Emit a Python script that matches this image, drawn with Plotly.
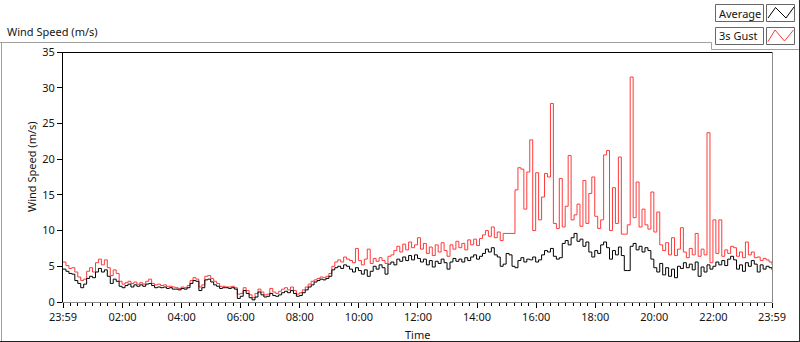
import plotly.graph_objects as go

# ---------------- data ----------------
# minutes elapsed since 23:59 of the previous day, 6-minute log interval
minutes = list(range(0, 1441, 6))

avg = [
    4.6, 4.3, 4.0, 3.9, 3.0, 2.6, 2.0, 2.5, 3.3, 3.6, 3.4, 4.2, 4.7, 4.2, 4.5, 3.6, 2.6, 3.2, 2.9, 2.2, 2.0,
    2.3, 2.5, 2.1, 2.4, 2.2, 2.4, 2.2, 2.5, 2.6, 2.3, 2.0, 2.1, 2.0, 2.1, 1.9, 2.0, 1.8, 1.8, 1.7, 1.9,
    1.8, 2.0, 2.6, 3.0, 2.9, 1.6, 2.0, 3.1, 3.2, 2.8, 2.4, 2.2, 1.9, 2.0, 2.0, 1.9, 2.0, 1.8, 0.5, 0.8,
    1.6, 1.2, 0.6, 0.3, 0.7, 1.4, 1.0, 0.7, 0.8, 1.2, 0.9, 0.8, 1.0, 1.3, 1.5, 1.3, 1.6, 1.2, 0.8, 0.9,
    1.3, 1.7, 2.1, 2.4, 2.8, 3.0, 3.2, 3.1, 3.3, 3.6, 4.5, 4.8, 5.0, 4.7, 5.2, 5.0, 4.6, 4.2, 4.8, 4.4,
    3.9, 4.5, 3.6, 4.3, 5.0, 4.6, 5.2, 4.8, 3.9, 5.3, 5.6, 5.2, 6.0, 5.7, 6.3, 5.8, 6.5, 5.9, 6.6, 6.1,
    5.6, 6.0, 5.2, 5.8, 4.9, 5.7, 5.4, 6.0, 5.5, 4.6, 5.6, 6.1, 5.7, 6.0, 5.6, 6.2, 5.8, 6.3, 6.6, 6.0,
    6.4, 6.8, 7.4, 7.0, 7.6, 6.6, 6.3, 5.0, 5.3, 6.8, 6.6, 5.0, 4.8, 5.8, 6.2, 5.6, 6.0, 5.9, 6.3, 5.6,
    5.9, 6.6, 7.2, 7.0, 7.5, 6.4, 6.0, 6.2, 8.2, 8.6, 8.0, 9.0, 9.6, 8.5, 8.8, 7.8, 8.4, 7.0, 6.3, 7.2,
    6.8, 8.0, 8.4, 7.6, 6.0, 7.2, 6.6, 7.7, 6.5, 4.4, 4.4, 7.8, 8.2, 7.3, 7.8, 7.0, 7.6, 7.2, 6.0, 4.8,
    4.2, 5.4, 3.8, 4.8, 3.6, 4.6, 3.4, 5.0, 4.7, 5.5, 4.8, 5.3, 4.5, 5.6, 3.6, 4.9, 4.2, 5.2, 4.6, 5.0,
    5.6, 5.2, 5.8, 5.1, 6.0, 6.4, 5.9, 4.6, 5.2, 4.3, 5.5, 5.0, 5.8, 5.3, 4.2, 5.2, 4.6, 5.0, 4.8, 4.5,
]

gust = [
    5.6, 5.1, 4.7, 4.8, 4.2, 3.5, 3.0, 3.2, 4.3, 4.8, 4.2, 5.5, 6.0, 5.2, 5.9, 4.8, 3.7, 4.5, 4.0, 2.9, 2.5,
    2.7, 2.9, 2.6, 2.8, 2.5, 2.7, 2.5, 2.9, 3.2, 2.6, 2.4, 2.5, 2.3, 2.4, 2.2, 2.2, 2.1, 2.0, 1.9, 2.1,
    2.0, 2.3, 3.0, 3.4, 3.2, 2.1, 2.4, 3.6, 3.7, 3.3, 2.9, 2.6, 2.2, 2.2, 2.1, 2.1, 2.2, 2.0, 1.1, 1.2,
    2.0, 1.6, 1.0, 0.6, 1.2, 1.8, 1.4, 1.0, 1.1, 1.9, 1.4, 1.2, 1.5, 1.8, 2.0, 1.7, 2.1, 1.6, 1.1, 1.3,
    1.7, 2.1, 2.5, 2.9, 3.1, 3.3, 3.5, 3.4, 3.6, 4.0, 5.0, 5.6, 5.9, 5.6, 6.3, 6.0, 5.8, 5.5, 7.5, 5.8,
    5.2, 6.0, 7.4, 5.4, 6.1, 5.7, 6.2, 5.8, 5.4, 6.4, 6.6, 7.2, 7.8, 7.0, 8.1, 7.3, 8.4, 7.6, 8.0, 9.0,
    7.4, 8.2, 6.8, 7.7, 6.5, 8.0, 7.0, 8.3, 7.2, 6.4, 8.0, 7.4, 8.5, 7.6, 8.2, 7.3, 8.7, 8.0, 8.8, 7.9,
    8.9, 9.4, 10.0, 9.2, 10.5, 9.0, 9.8, 8.6, 9.6, 9.6, 9.6, 9.6, 15.7, 18.8, 18.6, 13.0, 18.2, 22.7, 10.0, 18.1,
    11.5, 14.7, 18.0, 17.5, 27.8, 11.0, 10.3, 17.3, 10.5, 13.4, 20.5, 11.5, 12.2, 13.7, 10.6, 17.0, 11.0, 15.2, 17.5, 12.0,
    10.3, 11.5, 20.6, 21.2, 10.0, 16.0, 11.0, 20.3, 9.5, 9.5, 10.8, 31.5, 11.8, 16.8, 10.5, 13.0, 10.8, 10.2, 15.4, 9.8,
    12.6, 8.0, 7.2, 8.3, 6.6, 9.0, 6.5, 7.4, 10.4, 7.0, 6.2, 7.5, 6.6, 9.6, 6.4, 7.4, 6.6, 23.7, 5.5, 11.5,
    6.8, 11.5, 6.4, 7.3, 6.8, 7.8, 7.6, 6.4, 7.0, 6.2, 8.4, 6.6, 7.0, 6.2, 6.3, 5.8, 6.1, 5.9, 5.6, 5.2,
]

tick_minutes = [0, 121, 241, 361, 481, 601, 721, 841, 961, 1081, 1201, 1321, 1440]
tick_labels = ["23:59", "02:00", "04:00", "06:00", "08:00", "10:00", "12:00",
               "14:00", "16:00", "18:00", "20:00", "22:00", "23:59"]
y_ticks = [0, 5, 10, 15, 20, 25, 30, 35]

# ---------------- layout helpers ----------------
W, H = 800, 342
L, R, T, B = 63, 772, 52, 302


def px(x):
    return (x - L) / (R - L)


def py(y):
    return (B - y) / (B - T)


FONT = "Noto Sans, Liberation Sans, sans-serif"
TXT = "#141414"

minor_vals = []
for a, b in zip(tick_minutes[:-1], tick_minutes[1:]):
    for k in range(1, 8):
        minor_vals.append(a + (b - a) * k / 8)

fig = go.Figure()
fig.add_trace(go.Scatter(x=minutes, y=gust, mode="lines", name="3s Gust",
                         line=dict(color="#ff3a3a", width=1, shape="hv")))
fig.add_trace(go.Scatter(x=minutes, y=avg, mode="lines", name="Average",
                         line=dict(color="#000000", width=1, shape="hv")))

fig.update_layout(
    width=W, height=H,
    margin=dict(l=L, r=W - R, t=T, b=H - B, pad=0),
    paper_bgcolor="white", plot_bgcolor="white",
    showlegend=False,
    font=dict(family=FONT, size=11, color=TXT),
)
fig.update_xaxes(
    range=[0, 1440], tickmode="array", tickvals=tick_minutes, ticktext=tick_labels,
    ticks="outside", ticklen=5, tickwidth=1, tickcolor="black",
    showline=True, linecolor="#8a8a8a", linewidth=1,
    showgrid=False, zeroline=False,
    tickfont=dict(family=FONT, size=11, color=TXT),
    minor=dict(tickmode="array", tickvals=minor_vals, ticks="outside",
               ticklen=3, tickwidth=1, tickcolor="black", showgrid=False),
)
fig.update_yaxes(
    range=[0, 35], tickmode="array", tickvals=y_ticks,
    ticks="outside", ticklen=5, tickwidth=1, tickcolor="black",
    showline=True, linecolor="black", linewidth=1,
    showgrid=False, zeroline=False,
    tickfont=dict(family=FONT, size=11, color=TXT),
)

shapes = []


def hline(x0, x1, y, color, w=1):
    shapes.append(dict(type="line", xref="paper", yref="paper",
                       x0=px(x0), x1=px(x1), y0=py(y), y1=py(y),
                       line=dict(color=color, width=w)))


def vline(x, y0, y1, color, w=1):
    shapes.append(dict(type="line", xref="paper", yref="paper",
                       x0=px(x), x1=px(x), y0=py(y0), y1=py(y1),
                       line=dict(color=color, width=w)))


def rect(x0, y0, x1, y1, color):
    shapes.append(dict(type="rect", xref="paper", yref="paper",
                       x0=px(x0), x1=px(x1), y0=py(y0), y1=py(y1),
                       line=dict(color=color, width=1), fillcolor="white"))


def zigzag(points, color):
    path = "M " + " L ".join(f"{px(a)},{py(b)}" for a, b in points)
    shapes.append(dict(type="path", xref="paper", yref="paper", path=path,
                       line=dict(color=color, width=1)))


# plot-area frame (black top, grey right)
hline(62.5, 772.5, 52.5, "black")
vline(772.5, 52.5, 302.5, "#8a8a8a")
# outer panel frame
hline(0, 711.5, 42.5, "#a0a0a0")
vline(711.5, 42.5, 49.5, "#a0a0a0")
hline(711.5, 800, 49.5, "#a0a0a0")
vline(1.5, 42.5, 342, "#a0a0a0")
hline(0, 800, 341.5, "#202020")
vline(799.5, 0, 342, "#303030")

# legend boxes
rect(715.5, 4.5, 763.5, 21.5, "#666666")
rect(766.5, 4.5, 794.5, 21.5, "#666666")
rect(715.5, 27.5, 763.5, 44.5, "#666666")
rect(766.5, 27.5, 794.5, 44.5, "#666666")
zigzag([(768, 18), (775.5, 7.5), (786, 18), (794, 7)], "black")
zigzag([(768, 41.5), (775, 30), (784.5, 41), (793.5, 30)], "#ff3a3a")

fig.update_layout(shapes=shapes)

annotations = [
    dict(text="Wind Speed (m/s)", x=px(5), y=py(32), xanchor="left", yanchor="middle"),
    dict(text="Wind Speed (m/s)", x=px(31), y=py(167), xanchor="center", yanchor="middle",
         textangle=-90),
    dict(text="Time", x=px(417), y=py(334), xanchor="center", yanchor="middle"),
    dict(text="Average", x=px(717), y=py(13), xanchor="left", yanchor="middle"),
    dict(text="3s Gust", x=px(717), y=py(36), xanchor="left", yanchor="middle"),
]
for a in annotations:
    a.update(xref="paper", yref="paper", showarrow=False,
             font=dict(family=FONT, size=11, color=TXT))
fig.update_layout(annotations=annotations)

fig.write_html(
    "out.html",
    config={"displayModeBar": False, "staticPlot": True},
    post_script="document.body.style.margin='0';document.body.style.padding='0';"
                "document.documentElement.style.overflow='hidden';",
)
